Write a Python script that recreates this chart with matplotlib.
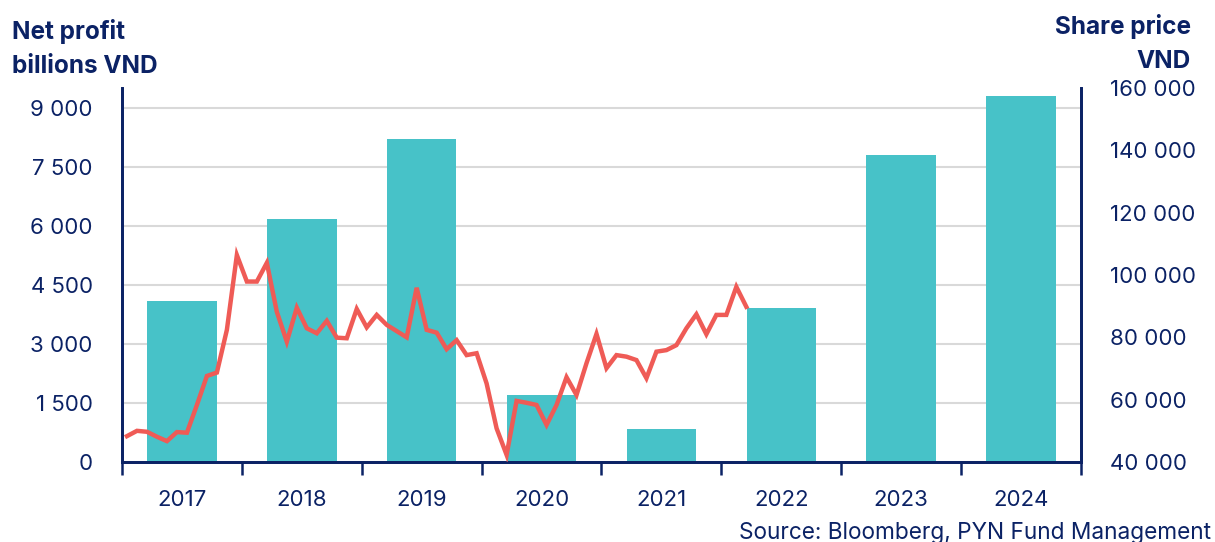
import numpy as np
import pandas as pd
import matplotlib
matplotlib.use('Agg')
import matplotlib.pyplot as plt
from matplotlib.ticker import FuncFormatter

# net profit per year, billions VND
years = ['2017', '2018', '2019', '2020', '2021', '2022', '2023', '2024']
net_profit = [4100, 6170, 8200, 1700, 840, 3910, 7790, 9310]

# monthly share price, VND (Jan 2017 - Mar 2022)
price_months = pd.date_range('2017-01-01', periods=63, freq='MS')
share_price = [
    48300, 50000, 49700, 48100, 46700, 49600, 49400, 58300, 67600, 68700, 82400, 106400,
    97900, 97900, 103900, 88200, 78600, 89500, 82900, 81300, 85300, 79900, 79700, 89100,
    83200, 87200, 84000, 82000, 80000, 95900, 82400, 81500, 76200, 79100, 74300, 74900,
    65200, 50800, 42300, 59600, 59000, 58300, 51900, 58300, 67200, 61500, 71700, 81100,
    70100, 74300, 73800, 72700, 66900, 75400, 75900, 77500, 82900, 87400, 81000, 87200,
    87200, 96200, 89800,
]

navy = '#0b2265'
teal = '#47c2c8'
red = '#ef5b56'
grid = '#d9d9d9'

plt.rcParams['font.family'] = ['Inter', 'DejaVu Sans']

fig = plt.figure(figsize=(12.15, 5.42), dpi=100)
ax = fig.add_axes([0.1004, 0.1476, 0.7893, 0.690])
ax2 = ax.twinx()

x = np.arange(len(years))
ax.bar(x, net_profit, width=0.58, color=teal, zorder=2)

# month positions in category units
xm = (price_months.year - 2017) + (price_months.month - 0.5) / 12 - 0.5
ax2.plot(xm, share_price, color=red, linewidth=3.2, solid_joinstyle='miter', zorder=3)

ax.set_xlim(-0.5, len(years) - 0.5)
ax.set_ylim(0, 9500)
ax2.set_ylim(40000, 160000)

ax.set_yticks(np.arange(0, 9001, 1500))
ax2.set_yticks(np.arange(40000, 160001, 20000))
fmt = FuncFormatter(lambda v, p: f'{int(v):,}'.replace(',', ' '))
ax.yaxis.set_major_formatter(fmt)
ax2.yaxis.set_major_formatter(fmt)

ax.grid(axis='y', color=grid, linewidth=1.5, zorder=0)
ax.set_axisbelow(True)

ax.set_xticks(x)
ax.set_xticklabels(years)
ax.set_xticks(np.arange(-0.5, len(years)), minor=True)
ax.tick_params(axis='x', which='major', length=0, pad=20, labelsize=16, labelcolor=navy)
ax.tick_params(axis='x', which='minor', length=9, width=1.8, color=navy, direction='out')
ax.tick_params(axis='y', length=0, pad=21, labelsize=16, labelcolor=navy)
ax2.tick_params(axis='y', which='both', length=0, pad=21, labelsize=16, labelcolor=navy)

for a in (ax, ax2):
    a.spines['top'].set_visible(False)
    for s in ('left', 'right', 'bottom'):
        a.spines[s].set_color(navy)
        a.spines[s].set_linewidth(2)

# titles
fig.text(0.010, 0.942, 'Net profit', fontsize=17.5, fontweight='bold', color=navy, va='center', ha='left')
fig.text(0.010, 0.877, 'billions VND', fontsize=17.5, fontweight='bold', color=navy, va='center', ha='left')
fig.text(0.980, 0.951, 'Share price', fontsize=17.5, fontweight='bold', color=navy, va='center', ha='right')
fig.text(0.980, 0.886, 'VND', fontsize=17.5, fontweight='bold', color=navy, va='center', ha='right')

fig.text(0.997, 0.017, 'Source: Bloomberg, PYN Fund Management', fontsize=16.3, color=navy,
         ha='right', va='center')

fig.savefig('out.png', dpi=100)
